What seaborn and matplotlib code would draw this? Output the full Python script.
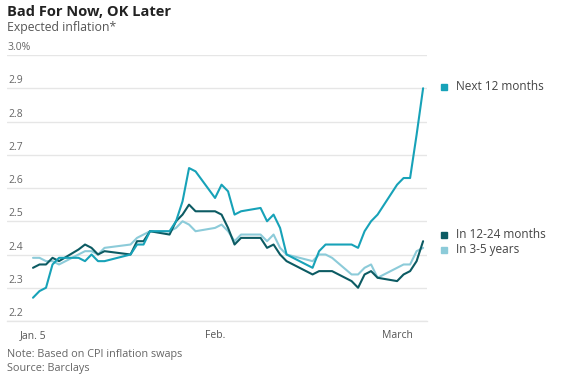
import pandas as pd
import matplotlib
matplotlib.use("Agg")
import matplotlib.pyplot as plt
import matplotlib.transforms as mtransforms
import seaborn as sns

# -------------------------------------------------
# Data: expected inflation from CPI swaps
# -------------------------------------------------
dates = pd.bdate_range("2021-01-04", "2021-03-05", freq="C",
                       holidays=["2021-01-18", "2021-02-15"])

next_12m = [2.27, 2.29, 2.30, 2.37, 2.39,
            2.39, 2.38, 2.40, 2.38, 2.38,
            2.40, 2.43, 2.43, 2.47,
            2.47, 2.50, 2.56, 2.66, 2.65,
            2.57, 2.61, 2.59, 2.52, 2.53,
            2.54, 2.50, 2.52, 2.48, 2.40,
            2.36, 2.41, 2.43, 2.43,
            2.43, 2.42, 2.47, 2.50, 2.52,
            2.61, 2.63, 2.63, 2.76, 2.90]

in_12_24m = [2.36, 2.37, 2.37, 2.39, 2.38,
             2.415, 2.43, 2.42, 2.40, 2.41,
             2.40, 2.44, 2.44, 2.47,
             2.46, 2.50, 2.52, 2.55, 2.53,
             2.53, 2.52, 2.48, 2.43, 2.45,
             2.45, 2.42, 2.43, 2.40, 2.38,
             2.34, 2.35, 2.35, 2.35,
             2.32, 2.30, 2.34, 2.35, 2.33,
             2.32, 2.34, 2.35, 2.38, 2.44]

in_3_5y = [2.39, 2.39, 2.38, 2.38, 2.37,
           2.40, 2.41, 2.41, 2.40, 2.42,
           2.43, 2.45, 2.46, 2.47,
           2.47, 2.48, 2.50, 2.49, 2.47,
           2.48, 2.49, 2.47, 2.44, 2.46,
           2.46, 2.44, 2.46, 2.42, 2.40,
           2.38, 2.40, 2.40, 2.39,
           2.34, 2.34, 2.36, 2.37, 2.33,
           2.36, 2.37, 2.37, 2.41, 2.42]

series_names = ["Next 12 months", "In 12-24 months", "In 3-5 years"]
series_colors = ["#17a2b8", "#0c5b63", "#8ccbd9"]
label_anchor = [2.905, 2.459, 2.414]

y_ticks = [2.2, 2.3, 2.4, 2.5, 2.6, 2.7, 2.8, 2.9, 3.0]
y_tick_labels = ["2.2", "2.3", "2.4", "2.5", "2.6", "2.7", "2.8", "2.9", "3.0%"]
x_tick_dates = [dates[0], pd.Timestamp("2021-02-01"), pd.Timestamp("2021-03-01")]
x_tick_labels = ["Jan. 5", "Feb.", "March"]

# -------------------------------------------------
# Build long table for seaborn
# -------------------------------------------------
wide = pd.DataFrame({"date": dates,
                     "Next 12 months": next_12m,
                     "In 12-24 months": in_12_24m,
                     "In 3-5 years": in_3_5y})
long_df = wide.melt(id_vars="date", var_name="series", value_name="value")
palette = dict(zip(series_names, series_colors))

# -------------------------------------------------
# Plot
# -------------------------------------------------
sns.set_style("white")
plt.rcParams["font.family"] = ["Open Sans", "DejaVu Sans"]

W, H = 569, 380
fig = plt.figure(figsize=(W / 100, H / 100), dpi=100)
ax = fig.add_axes([7 / W, 1 - 321 / H, 420 / W, 266 / H])

sns.lineplot(data=long_df, x="date", y="value", hue="series",
             hue_order=["In 3-5 years", "In 12-24 months", "Next 12 months"],
             palette=palette, linewidth=1.5, legend=False, ax=ax)

ax.set_ylim(2.2, 3.0)
ax.set_xlim(dates[0] - pd.Timedelta(days=4), dates[-1] + pd.Timedelta(days=0.6))
ax.set_xlabel("")
ax.set_ylabel("")

# horizontal grid, labels sit above the lines on the left
ax.set_yticks(y_ticks)
ax.set_yticklabels([])
ax.tick_params(axis="y", length=0)
ax.grid(axis="y", color="#e6e6e6", linewidth=1)
for s in ["top", "right", "left"]:
    ax.spines[s].set_visible(False)
ax.spines["bottom"].set_color("#e6e6e6")
ax.spines["bottom"].set_linewidth(1)

ylab_trans = mtransforms.offset_copy(
    mtransforms.blended_transform_factory(ax.transAxes, ax.transData),
    fig=fig, x=1, y=2, units="dots")
for v, lab in zip(y_ticks, y_tick_labels):
    ax.text(0, v, lab, transform=ylab_trans, ha="left", va="bottom",
            fontsize=7.5, color="#666666")

# x ticks: dots for each trading day, marks at month starts
ax.set_xticks(x_tick_dates)
ax.set_xticklabels(x_tick_labels)
ax.set_xticks(dates, minor=True)
ax.tick_params(axis="x", which="major", length=3, width=0.8, color="#888888",
               direction="inout", pad=5, labelsize=7.5, labelcolor="#555555")
ax.tick_params(axis="x", which="minor", length=1.3, width=1.3, color="#8a8a8a",
               direction="inout")
ax.xaxis.get_major_ticks()[0].tick1line.set_visible(False)

# end-of-line legend
key_trans = mtransforms.blended_transform_factory(ax.transAxes, ax.transData)
for name, col, yv in zip(series_names, series_colors, label_anchor):
    ax.plot([1.04], [yv], marker="s", markersize=5, color=col,
            transform=key_trans, clip_on=False, linestyle="none")
    ax.text(1.068, yv, name, transform=key_trans, ha="left", va="center",
            fontsize=8.5, color="#444444")

# titles and notes
fig.text(7 / W, 1 - 12 / H, "Bad For Now, OK Later", fontsize=10.5,
         fontweight="bold", color="#222222", va="center", ha="left")
fig.text(7 / W, 1 - 27.5 / H, "Expected inflation*", fontsize=8.8,
         color="#555555", va="center", ha="left")
fig.text(7 / W, 1 - 355 / H, "Note: Based on CPI inflation swaps", fontsize=7.8,
         color="#666666", va="center", ha="left")
fig.text(7 / W, 1 - 368 / H, "Source: Barclays", fontsize=7.8,
         color="#666666", va="center", ha="left")

fig.savefig("out.png", dpi=100, facecolor="white")
